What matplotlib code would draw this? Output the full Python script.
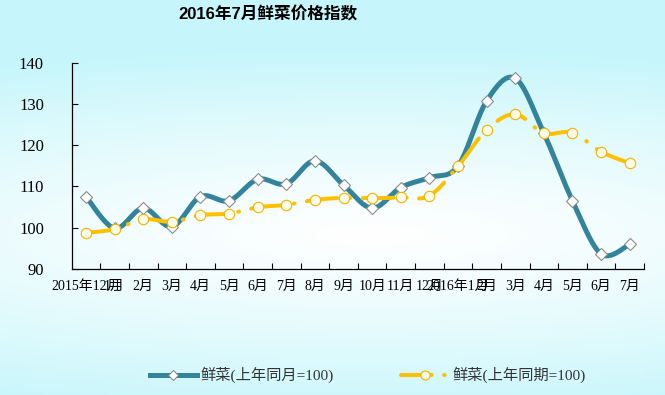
# 2016年7月鲜菜价格指数 折线图

import numpy as np
import matplotlib
matplotlib.use("Agg")
import matplotlib.pyplot as plt
from matplotlib.lines import Line2D

plt.rcParams["font.family"] = ["Liberation Serif", "Noto Sans CJK SC"]
plt.rcParams["axes.unicode_minus"] = False
plt.rcParams["lines.scale_dashes"] = False

# 数据
months = ["2015年12月", "1月", "2月", "3月", "4月", "5月", "6月", "7月", "8月", "9月",
          "10月", "11月", "12月", "2016年1月", "2月", "3月", "4月", "5月", "6月", "7月"]
yoy_month = [107.5, 99.8, 104.7, 100.2, 107.5, 106.5, 111.7, 110.6, 116.2, 110.3,
             104.7, 109.7, 112.1, 114.9, 130.7, 136.2, 122.9, 106.5, 93.6, 95.9]
yoy_period = [98.7, 99.6, 102.0, 101.4, 103.0, 103.4, 104.9, 105.5, 106.7, 107.2,
              107.1, 107.3, 107.7, 114.9, 123.7, 127.5, 122.9, 123.0, 118.4, 115.6]
labels = ["鲜菜(上年同月=100)", "鲜菜(上年同期=100)"]
y_ticks = [90, 100, 110, 120, 130, 140]

BLUE = "#31849B"
GOLD = "#FFC000"
CYAN = np.array([0.78, 0.965, 0.985])
GOLD_DASH = (0, (22, 9, 0.5, 9))


def smooth_xy(x, y, n=30):
    """类似Excel的平滑线（三次贝塞尔）"""
    p = np.column_stack([x, y]).astype(float)
    out = [p[0]]
    t = np.linspace(0, 1, n)[1:, None]
    for i in range(len(p) - 1):
        p0 = p[i - 1] if i > 0 else p[i]
        p1, p2 = p[i], p[i + 1]
        p3 = p[i + 2] if i + 2 < len(p) else p[i + 1]
        c1 = p1 + (p2 - p0) / 6
        c2 = p2 - (p3 - p1) / 6
        seg = ((1 - t) ** 3) * p1 + 3 * ((1 - t) ** 2) * t * c1 + 3 * (1 - t) * t ** 2 * c2 + t ** 3 * p2
        out.extend(seg)
    out = np.array(out)
    return out[:, 0], out[:, 1]


fig = plt.figure(figsize=(6.65, 3.95), dpi=100)

# 背景渐变
bg = fig.add_axes([0, 0, 1, 1], zorder=-10)
gx, gy = np.meshgrid(np.linspace(0, 665, 200), np.linspace(0, 395, 120))
r = np.sqrt(((gx - 370) / 900) ** 2 + ((gy - 235) / 185) ** 2)
r = np.clip(r, 0, 1) ** 1.2
img = 1 - (1 - CYAN)[None, None, :] * r[:, :, None]
bg.imshow(img, aspect="auto", extent=(0, 1, 0, 1), origin="upper")
bg.axis("off")

ax = fig.add_axes([0.1078, 0.3197, 0.8606, 0.5216])
ax.set_facecolor("none")

x = np.arange(len(months))
sx, sy = smooth_xy(x, yoy_month)
ax.plot(sx, sy, color=BLUE, lw=3.6, solid_capstyle="round", zorder=3)
ax.plot(x, yoy_month, ls="none", marker="D", ms=6.5, mfc="white", mec="#8C8C8C", mew=0.8, zorder=4)

px, py = smooth_xy(x, yoy_period)
ax.plot(px, py, color=GOLD, lw=2.9, ls=GOLD_DASH, dash_capstyle="round", zorder=5)
ax.plot(x, yoy_period, ls="none", marker="o", ms=7.5, mfc="#FFFCE8", mec="#F0B400", mew=0.8, zorder=6)

ax.set_xlim(-0.5, len(months) - 0.5)
ax.set_ylim(90, 140)
ax.set_yticks(y_ticks)
ax.set_yticklabels([str(v) for v in y_ticks], fontsize=12)
ax.set_xticks(x + 0.5)
ax.set_xticklabels([])
ax.set_xticks(x, minor=True)
ax.set_xticklabels(months, minor=True, fontsize=10)
ax.tick_params(axis="x", which="major", direction="in", length=4, width=0.8)
ax.tick_params(axis="x", which="minor", length=0, pad=8)
ax.tick_params(axis="y", direction="in", length=4, width=0.8, pad=20)
for s in ["top", "right"]:
    ax.spines[s].set_visible(False)
for s in ["left", "bottom"]:
    ax.spines[s].set_linewidth(0.9)

fig.suptitle("2016年7月鲜菜价格指数", x=0.403, y=0.985, fontsize=12, fontweight="bold",
             family=["Liberation Sans", "Noto Sans CJK SC"])

handles = [
    Line2D([], [], color=BLUE, lw=3.6, marker="D", ms=5, mfc="white", mec="#8C8C8C", mew=0.8),
    Line2D([], [], color=GOLD, lw=2.9, ls=GOLD_DASH, dash_capstyle="round",
           marker="o", ms=6.5, mfc="#FFFCE8", mec="#F0B400", mew=0.8),
]
fig.legend(handles, labels, loc="center", bbox_to_anchor=(0.553, 0.05), ncol=2, frameon=False,
           handlelength=3.1, handletextpad=0.25, columnspacing=4.4, fontsize=11, labelcolor="#333333")

plt.savefig("out.png", dpi=100)
plt.close()
